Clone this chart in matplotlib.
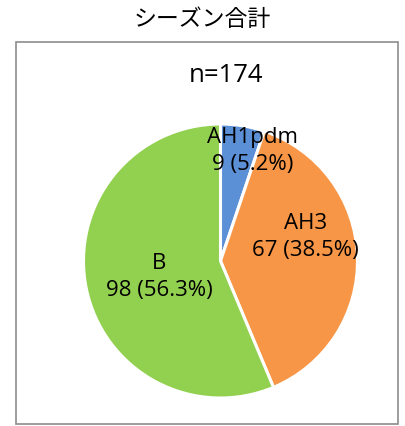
import matplotlib
matplotlib.use("Agg")
import matplotlib.pyplot as plt
from matplotlib.patches import Rectangle

plt.rcParams['font.family'] = ['Open Sans', 'Noto Sans CJK JP', 'DejaVu Sans']

title = "シーズン合計"
categories = ["AH1pdm", "AH3", "B"]
values = [9, 67, 98]
colors = ["#5B8FD6", "#F79646", "#92D050"]

total = sum(values)
W, H = 405, 427
fig = plt.figure(figsize=(W / 100, H / 100), dpi=100)
ax = fig.add_axes([0, 0, 1, 1])

cx, cy, r = 220.5, H - 262, 137
ax.pie(values, colors=colors, startangle=90, counterclock=False,
       center=(cx, cy), radius=r, frame=True,
       wedgeprops=dict(edgecolor="white", linewidth=2.2))
ax.set_xlim(0, W)
ax.set_ylim(0, H)
ax.set_aspect('equal')
ax.axis('off')

# border box
ax.add_patch(Rectangle((15.5, H - 424.5), 382, 382, fill=False,
                       edgecolor="#8c8c8c", linewidth=1.2))

fig.text(0.5, 1 - 20 / H, title, ha='center', va='center', fontsize=16.5,
         family=['Noto Sans CJK JP', 'DejaVu Sans'])
ax.text(226, H - 75, f"n={total}", ha='center', va='center', fontsize=18.5)

label_offsets = [(32, 111), (85, 25), (-61.5, -15)]
for cat, v, (dx, dy) in zip(categories, values, label_offsets):
    ax.text(cx + dx, cy + dy, f"{cat}\n{v} ({v / total * 100:.1f}%)",
            ha='center', va='center', fontsize=16, linespacing=1.42)

fig.savefig("out.png", dpi=100)
